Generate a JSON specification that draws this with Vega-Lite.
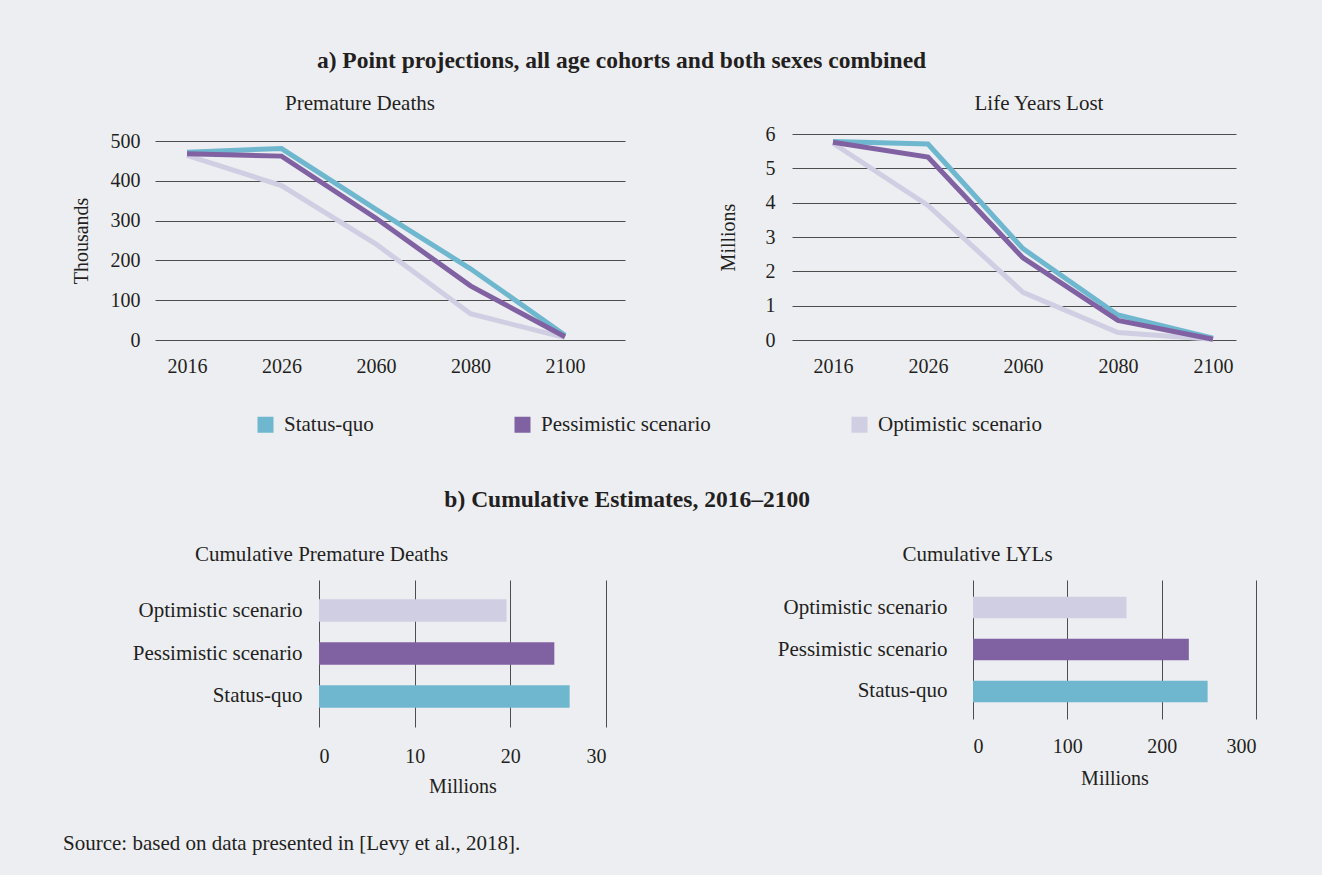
{
  "$schema": "https://vega.github.io/schema/vega-lite/v6.json",
  "background": "#EDEEF2",
  "padding": {"left": 63, "top": 48, "right": 66, "bottom": 24},
  "config": {
    "font": "Liberation Serif",
    "view": {"stroke": null},
    "axis": {"labelFont": "Liberation Serif", "labelFontSize": 20, "labelColor": "#231F20", "titleFont": "Liberation Serif", "titleFontSize": 20, "titleFontWeight": "normal", "titleColor": "#231F20", "domain": false, "ticks": false, "gridColor": "#4D4D4D", "gridWidth": 1, "gridOpacity": 1, "labelLimit": 300},
    "title": {"font": "Liberation Serif", "fontSize": 21, "fontWeight": "normal", "color": "#231F20"},
    "legend": {"labelFont": "Liberation Serif", "labelFontSize": 21, "labelColor": "#231F20", "labelLimit": 300}
  },
  "datasets": {
    "lines": [
      {"year": "2016", "scenario": "Optimistic scenario", "deaths": 464, "lyl": 5.73},
      {"year": "2026", "scenario": "Optimistic scenario", "deaths": 388, "lyl": 3.92},
      {"year": "2060", "scenario": "Optimistic scenario", "deaths": 241, "lyl": 1.39},
      {"year": "2080", "scenario": "Optimistic scenario", "deaths": 66, "lyl": 0.22},
      {"year": "2100", "scenario": "Optimistic scenario", "deaths": 6, "lyl": 0.02},
      {"year": "2016", "scenario": "Status-quo", "deaths": 472, "lyl": 5.78},
      {"year": "2026", "scenario": "Status-quo", "deaths": 481, "lyl": 5.71},
      {"year": "2060", "scenario": "Status-quo", "deaths": 328, "lyl": 2.66},
      {"year": "2080", "scenario": "Status-quo", "deaths": 179, "lyl": 0.73},
      {"year": "2100", "scenario": "Status-quo", "deaths": 12, "lyl": 0.05},
      {"year": "2016", "scenario": "Pessimistic scenario", "deaths": 468, "lyl": 5.76},
      {"year": "2026", "scenario": "Pessimistic scenario", "deaths": 462, "lyl": 5.33},
      {"year": "2060", "scenario": "Pessimistic scenario", "deaths": 306, "lyl": 2.39},
      {"year": "2080", "scenario": "Pessimistic scenario", "deaths": 136, "lyl": 0.57},
      {"year": "2100", "scenario": "Pessimistic scenario", "deaths": 8, "lyl": 0.02}
    ],
    "bars": [
      {"scenario": "Status-quo", "deaths": 26.2, "lyl": 248.7},
      {"scenario": "Pessimistic scenario", "deaths": 24.6, "lyl": 228.8},
      {"scenario": "Optimistic scenario", "deaths": 19.6, "lyl": 162.7}
    ]
  },
  "title": {"text": "Source: based on data presented in  [Levy et al., 2018].", "orient": "bottom", "anchor": "start", "fontSize": 21, "offset": 37, "dx": -8},
  "resolve": {"scale": {"color": "independent"}, "legend": {"color": "independent"}},
  "spacing": 42,
  "vconcat": [
    {
      "title": {"text": "a) Point projections, all age cohorts and both sexes combined", "fontSize": 23.5, "fontWeight": "bold", "anchor": "middle", "dx": -32, "offset": 21},
      "spacing": 93,
      "hconcat": [
        {
          "width": 470,
          "height": 206,
          "title": {"text": "Premature Deaths", "anchor": "middle", "dx": -30, "offset": 17},
          "data": {"name": "lines"},
          "mark": {"type": "line", "strokeWidth": 5},
          "encoding": {
            "x": {"field": "year", "type": "ordinal", "scale": {"type": "point", "padding": 0.487, "align": 0.348}, "axis": {"title": null, "labelAngle": 0, "labelPadding": 16, "grid": false}},
            "y": {"field": "deaths", "type": "quantitative", "scale": {"domain": [0, 500], "range": [206, 7]}, "axis": {"title": "Thousands", "values": [0, 100, 200, 300, 400, 500], "labelPadding": 15, "titlePadding": 19}},
            "color": {"field": "scenario", "type": "nominal", "scale": {"domain": ["Status-quo", "Pessimistic scenario", "Optimistic scenario"], "range": ["#6FB7CE", "#8062A2", "#CFCEE2"]}, "legend": {"title": null, "orient": "none", "legendX": 100, "legendY": 280, "direction": "horizontal", "columnPadding": 128, "symbolType": "square", "symbolSize": 64, "symbolStrokeWidth": 8, "labelOffset": 8, "gridAlign": "each"}}
          }
        },
        {
          "width": 444,
          "height": 206,
          "title": {"text": "Life Years Lost", "anchor": "middle", "dx": 25, "offset": 10},
          "data": {"name": "lines"},
          "mark": {"type": "line", "strokeWidth": 5},
          "encoding": {
            "x": {"field": "year", "type": "ordinal", "scale": {"type": "point", "padding": 0.337, "align": 0.64}, "axis": {"title": null, "labelAngle": 0, "labelPadding": 16, "grid": false}},
            "y": {"field": "lyl", "type": "quantitative", "scale": {"domain": [0, 6]}, "axis": {"title": "Millions", "values": [0, 1, 2, 3, 4, 5, 6], "labelPadding": 17, "titlePadding": 27}},
            "color": {"field": "scenario", "type": "nominal", "scale": {"domain": ["Status-quo", "Pessimistic scenario", "Optimistic scenario"], "range": ["#6FB7CE", "#8062A2", "#CFCEE2"]}, "legend": {"title": null, "orient": "none", "legendX": 100, "legendY": 280, "direction": "horizontal", "columnPadding": 128, "symbolType": "square", "symbolSize": 64, "symbolStrokeWidth": 8, "labelOffset": 8, "gridAlign": "each"}}
          }
        }
      ]
    },
    {
      "title": {"text": "b) Cumulative Estimates, 2016–2100", "fontSize": 23.5, "fontWeight": "bold", "anchor": "middle", "dx": -67, "offset": 33},
      "spacing": 171,
      "hconcat": [
        {
          "width": 451,
          "height": 147,
          "title": {"text": "Cumulative Premature Deaths", "anchor": "middle", "dx": -59, "offset": 15},
          "data": {"name": "bars"},
          "mark": {"type": "bar"},
          "encoding": {
            "y": {"field": "scenario", "type": "nominal", "sort": ["Optimistic scenario", "Pessimistic scenario", "Status-quo"], "scale": {"paddingInner": 0.48, "paddingOuter": 0.45}, "axis": {"title": null, "labelPadding": 17, "labelFontSize": 21, "offset": -164, "grid": false}},
            "x": {"field": "deaths", "type": "quantitative", "scale": {"domain": [0, 30], "range": [164, 451]}, "axis": {"values": [0, 10, 20, 30], "title": "Millions", "labelPadding": 19, "titlePadding": 10, "grid": true}},
            "color": {"field": "scenario", "type": "nominal", "scale": {"domain": ["Status-quo", "Pessimistic scenario", "Optimistic scenario"], "range": ["#6FB7CE", "#8062A2", "#CFCEE2"]}, "legend": null}
          }
        },
        {
          "width": 283,
          "height": 139,
          "title": {"text": "Cumulative LYLs", "anchor": "middle", "dx": -137, "offset": 15},
          "data": {"name": "bars"},
          "mark": {"type": "bar"},
          "encoding": {
            "y": {"field": "scenario", "type": "nominal", "sort": ["Optimistic scenario", "Pessimistic scenario", "Status-quo"], "scale": {"paddingInner": 0.49, "paddingOuter": 0.4}, "axis": {"title": null, "labelPadding": 26, "labelFontSize": 21, "grid": false}},
            "x": {"field": "lyl", "type": "quantitative", "scale": {"domain": [0, 300]}, "axis": {"values": [0, 100, 200, 300], "title": "Millions", "labelPadding": 17, "titlePadding": 12, "grid": true}},
            "color": {"field": "scenario", "type": "nominal", "scale": {"domain": ["Status-quo", "Pessimistic scenario", "Optimistic scenario"], "range": ["#6FB7CE", "#8062A2", "#CFCEE2"]}, "legend": null}
          }
        }
      ]
    }
  ]
}
